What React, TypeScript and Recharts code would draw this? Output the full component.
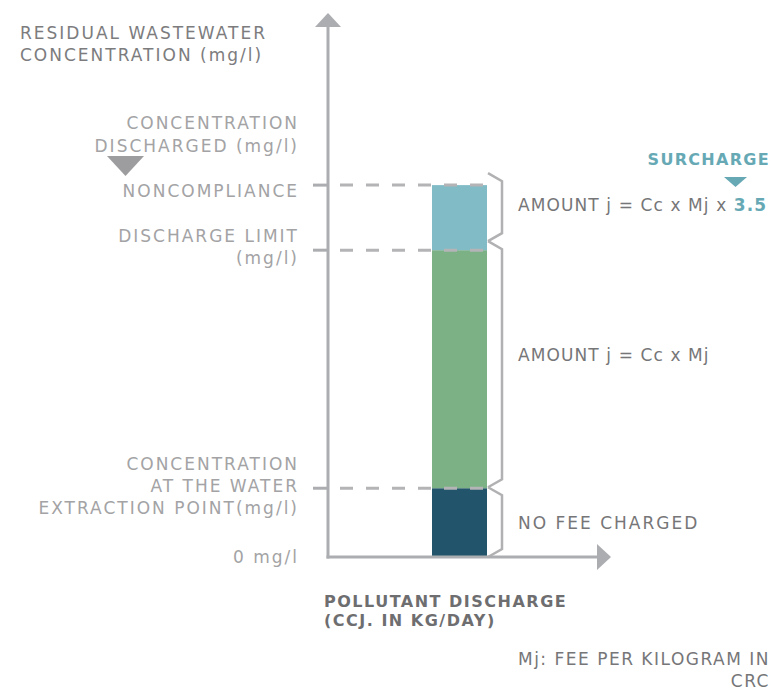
import { Bar, BarChart, ReferenceLine, XAxis, YAxis } from "recharts";

// concentration levels (mg/l, relative units)
const levelValues = [0, 1.3, 5.8, 7.03];
const levelLabels = [
  ["0 mg/l"],
  ["CONCENTRATION", "AT THE WATER", "EXTRACTION POINT(mg/l)"],
  ["DISCHARGE LIMIT", "(mg/l)"],
  ["NONCOMPLIANCE"],
];
const categories = ["POLLUTANT DISCHARGE"];
const segmentKeys = ["noFee", "standard", "surcharge"];
const segmentLabels = ["NO FEE CHARGED", "AMOUNT j = Cc x Mj", "AMOUNT j = Cc x Mj x "];
const surchargeFactor = "3.5";
const yDomainMax = 10;

const titleLines = ["RESIDUAL WASTEWATER", "CONCENTRATION (mg/l)"];
const dischargedLines = ["CONCENTRATION", "DISCHARGED (mg/l)"];
const xTitleLines = ["POLLUTANT DISCHARGE", "(CCJ. IN KG/DAY)"];
const noteLines = ["Mj: FEE PER KILOGRAM IN", "CRC"];

const data = categories.map((name) => ({
  name,
  noFee: levelValues[1],
  standard: levelValues[2] - levelValues[1],
  surcharge: levelValues[3] - levelValues[2],
}));

// styles
const segmentColors = ["#22546b", "#7cb186", "#80bbc6"];
const teal = "#66a9b5";
const axisGray = "#acadb0";
const braceGray = "#b1b1b3";
const labelGray = "#a3a3a5";
const darkGray = "#767678";
const font = "'DejaVu Sans', sans-serif";
const barSize = 55;
const padRight = 6;
const lineGap = 22;
const tickNudge = [0, -2, -3, 6];
const braceShift = [
  [-1, 0],
  [-9, -1],
  [-12, -9],
];
const labelShift = [0.5, -9, -2];
const labelSpacing = [2, 1.1, 1.1];

const baseline = (center: number, size: number) => center + size * 0.36;

const LevelTick = (props: any) => {
  const { x, y, payload } = props;
  const i = levelValues.indexOf(payload.value);
  const lines = levelLabels[i] || [];
  const first = y + tickNudge[i] - ((lines.length - 1) * lineGap) / 2;
  return (
    <g>
      {i > 0 && (
        <line x1={x + 16} x2={x + 31} y1={y} y2={y} stroke={axisGray} strokeWidth={3} />
      )}
      {lines.map((line, k) => (
        <text
          key={line}
          x={x + 2}
          y={baseline(first + k * lineGap, 17)}
          textAnchor="end"
          fontSize={17}
          letterSpacing={2}
          fill={labelGray}
          fontFamily={font}
        >
          {line}
        </text>
      ))}
    </g>
  );
};

const segmentShape = (i: number) => (props: any) => {
  const { x, y, width, height, fill } = props;
  const right = x + width;
  const top = y + braceShift[i][0];
  const bottom = y + height + braceShift[i][1];
  const mid = (top + bottom) / 2 + labelShift[i];
  return (
    <g>
      <rect x={x} y={y} width={width} height={height} fill={fill} />
      <path
        d={`M${right + 1},${top} L${right + 15},${top + 8} L${right + 15},${bottom - 8} L${right + 1},${bottom}`}
        fill="none"
        stroke={braceGray}
        strokeWidth={2.5}
      />
      <text
        x={right + 31}
        y={baseline(mid, 17)}
        fontSize={17}
        letterSpacing={labelSpacing[i]}
        fill={darkGray}
        fontFamily={font}
      >
        {segmentLabels[i]}
        {i === 2 && (
          <tspan fontWeight="bold" fill={teal}>
            {surchargeFactor}
          </tspan>
        )}
      </text>
    </g>
  );
};

const dashedShape = (props: any) => {
  const { x1, x2, y1 } = props;
  const barRight = x1 + (x2 - x1 - padRight) / 2 + barSize / 2;
  return (
    <line
      x1={x1 + 12}
      x2={barRight}
      y1={y1}
      y2={y1}
      stroke="#b4b4b6"
      strokeWidth={3}
      strokeDasharray="13 13"
    />
  );
};

export default function App() {
  return (
    <div style={{ position: "absolute", left: 0, top: 0, width: 771, height: 691, fontFamily: font, overflow: "hidden" }}>
      <BarChart
        width={771}
        height={691}
        data={data}
        barSize={barSize}
        margin={{ top: 28, right: 174, bottom: 133, left: 0 }}
      >
        <XAxis
          dataKey="name"
          tick={false}
          tickLine={false}
          height={1}
          padding={{ left: 0, right: padRight }}
          axisLine={{ stroke: axisGray, strokeWidth: 3, strokeLinecap: "square" }}
        />
        <YAxis
          type="number"
          domain={[0, yDomainMax]}
          ticks={levelValues}
          interval={0}
          width={328}
          tickSize={0}
          tickMargin={31}
          tickLine={false}
          axisLine={{ stroke: axisGray, strokeWidth: 3, strokeLinecap: "square" }}
          tick={(p: any) => <LevelTick {...p} />}
        />
        {segmentKeys.map((key, i) => (
          <Bar
            key={key}
            dataKey={key}
            stackId="c"
            fill={segmentColors[i]}
            isAnimationActive={false}
            shape={segmentShape(i)}
          />
        ))}
        {levelValues.slice(1).map((v) => (
          <ReferenceLine key={v} y={v} shape={dashedShape} />
        ))}
      </BarChart>
      <svg
        width={771}
        height={691}
        style={{ position: "absolute", left: 0, top: 0, pointerEvents: "none" }}
      >
        <polygon points="328,13 315,27 341,27" fill={axisGray} />
        <polygon points="611,557 597,544 597,570" fill={axisGray} />
        {titleLines.map((t, k) => (
          <text key={t} x={20} y={baseline(33 + k * 22, 17)} fontSize={17} letterSpacing={2} fill="#7c7c7e" fontFamily={font}>
            {t}
          </text>
        ))}
        {dischargedLines.map((t, k) => (
          <text key={t} x={299} y={baseline(123 + k * 22.5, 17)} textAnchor="end" fontSize={17} letterSpacing={2} fill={labelGray} fontFamily={font}>
            {t}
          </text>
        ))}
        <polygon points="107,156 144,156 125.5,176" fill="#9d9d9f" />
        <text x={770} y={baseline(159, 16)} textAnchor="end" fontSize={16} fontWeight="bold" letterSpacing={1.3} fill={teal} fontFamily={font}>
          SURCHARGE
        </text>
        <polygon points="724,177 747,177 735.5,187" fill={teal} />
        {xTitleLines.map((t, k) => (
          <text key={t} x={324} y={baseline(601 + k * 19, 16)} fontSize={16} fontWeight="bold" letterSpacing={1.5} fill="#6e6e70" fontFamily={font}>
            {t}
          </text>
        ))}
        {noteLines.map((t, k) => (
          <text key={t} x={770} y={baseline(659 + k * 22, 17)} textAnchor="end" fontSize={17} letterSpacing={1.5} fill={darkGray} fontFamily={font}>
            {t}
          </text>
        ))}
      </svg>
    </div>
  );
}
